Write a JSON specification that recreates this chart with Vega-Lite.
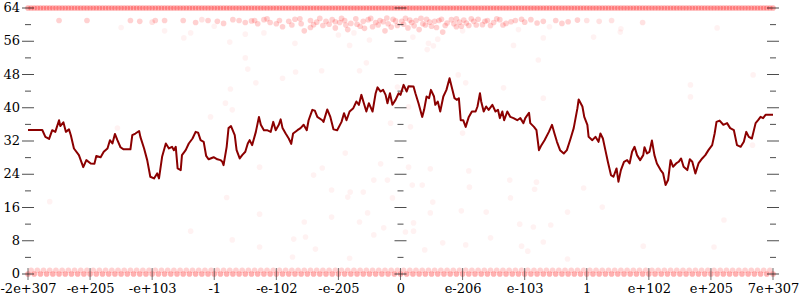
{
  "$schema": "https://vega.github.io/schema/vega-lite/v6.json",
  "width": 745,
  "height": 266,
  "autosize": {"type": "none"},
  "padding": {"left": 28, "top": 8, "right": 27, "bottom": 26},
  "background": "white",
  "config": {
    "view": {"stroke": null},
    "axis": {"labelFont": "DejaVu Serif", "labelFontSize": 13, "labelColor": "black", "grid": false, "ticks": false, "domain": false, "labelOverlap": false, "labelPadding": 8, "labelFlush": false, "labelBound": false},
    "axisY": {"disable": true}
  },
  "datasets": {
    "line": [
      {"x":-6.00,"y":34.65},{"x":-5.77,"y":34.65},{"x":-5.72,"y":33.0},{"x":-5.66,"y":32.5},{"x":-5.61,"y":34.6},{"x":-5.56,"y":34.2},{"x":-5.50,"y":37.0},{"x":-5.48,"y":35.6},{"x":-5.43,"y":36.5},{"x":-5.39,"y":34.2},{"x":-5.34,"y":34.8},{"x":-5.31,"y":33.4},{"x":-5.26,"y":30.2},{"x":-5.18,"y":28.6},{"x":-5.11,"y":25.7},{"x":-5.06,"y":27.4},{"x":-4.99,"y":26.6},{"x":-4.93,"y":26.5},{"x":-4.90,"y":28.4},{"x":-4.83,"y":28.1},{"x":-4.78,"y":29.4},{"x":-4.72,"y":30.2},{"x":-4.68,"y":32.2},{"x":-4.64,"y":31.4},{"x":-4.60,"y":33.7},{"x":-4.56,"y":32.2},{"x":-4.51,"y":30.5},{"x":-4.46,"y":30.0},{"x":-4.35,"y":30.0},{"x":-4.32,"y":33.4},{"x":-4.27,"y":33.8},{"x":-4.21,"y":34.4},{"x":-4.19,"y":33.0},{"x":-4.13,"y":30.2},{"x":-4.08,"y":27.4},{"x":-4.03,"y":23.4},{"x":-3.97,"y":23.0},{"x":-3.92,"y":24.2},{"x":-3.89,"y":23.0},{"x":-3.84,"y":28.2},{"x":-3.78,"y":31.4},{"x":-3.73,"y":30.2},{"x":-3.68,"y":30.6},{"x":-3.65,"y":29.8},{"x":-3.62,"y":30.6},{"x":-3.59,"y":25.4},{"x":-3.54,"y":25.0},{"x":-3.52,"y":28.6},{"x":-3.46,"y":29.8},{"x":-3.41,"y":31.4},{"x":-3.35,"y":32.6},{"x":-3.30,"y":34.2},{"x":-3.26,"y":34.0},{"x":-3.22,"y":32.2},{"x":-3.17,"y":31.8},{"x":-3.13,"y":28.4},{"x":-3.09,"y":27.6},{"x":-3.01,"y":28.1},{"x":-2.95,"y":27.6},{"x":-2.90,"y":27.4},{"x":-2.87,"y":27.0},{"x":-2.85,"y":26.2},{"x":-2.80,"y":30.6},{"x":-2.77,"y":35.1},{"x":-2.73,"y":35.6},{"x":-2.67,"y":33.4},{"x":-2.64,"y":29.8},{"x":-2.59,"y":27.8},{"x":-2.55,"y":28.6},{"x":-2.50,"y":29.4},{"x":-2.46,"y":31.4},{"x":-2.43,"y":32.2},{"x":-2.39,"y":31.0},{"x":-2.33,"y":34.2},{"x":-2.28,"y":37.8},{"x":-2.25,"y":35.9},{"x":-2.20,"y":34.6},{"x":-2.15,"y":34.6},{"x":-2.09,"y":34.2},{"x":-2.05,"y":36.6},{"x":-2.01,"y":34.6},{"x":-1.96,"y":35.9},{"x":-1.93,"y":37.2},{"x":-1.90,"y":35.1},{"x":-1.85,"y":33.8},{"x":-1.80,"y":32.6},{"x":-1.76,"y":31.3},{"x":-1.73,"y":33.8},{"x":-1.66,"y":34.6},{"x":-1.61,"y":35.1},{"x":-1.56,"y":35.9},{"x":-1.51,"y":34.6},{"x":-1.48,"y":37.0},{"x":-1.42,"y":39.5},{"x":-1.38,"y":39.3},{"x":-1.34,"y":37.8},{"x":-1.26,"y":37.0},{"x":-1.24,"y":36.6},{"x":-1.18,"y":39.6},{"x":-1.13,"y":37.8},{"x":-1.08,"y":34.8},{"x":-1.02,"y":34.6},{"x":-0.95,"y":36.6},{"x":-0.91,"y":38.7},{"x":-0.87,"y":37.0},{"x":-0.82,"y":39.1},{"x":-0.76,"y":39.9},{"x":-0.71,"y":41.5},{"x":-0.67,"y":40.7},{"x":-0.63,"y":43.1},{"x":-0.59,"y":41.1},{"x":-0.55,"y":39.1},{"x":-0.51,"y":41.1},{"x":-0.48,"y":40.1},{"x":-0.45,"y":39.1},{"x":-0.40,"y":43.5},{"x":-0.37,"y":44.9},{"x":-0.32,"y":43.9},{"x":-0.28,"y":44.3},{"x":-0.24,"y":43.1},{"x":-0.21,"y":41.1},{"x":-0.17,"y":43.5},{"x":-0.13,"y":40.7},{"x":-0.08,"y":41.9},{"x":-0.03,"y":43.5},{"x":0.00,"y":43.1},{"x":0.05,"y":45.5},{"x":0.10,"y":43.9},{"x":0.13,"y":45.2},{"x":0.21,"y":45.1},{"x":0.24,"y":43.5},{"x":0.29,"y":41.1},{"x":0.35,"y":37.8},{"x":0.38,"y":39.5},{"x":0.42,"y":42.7},{"x":0.46,"y":42.3},{"x":0.49,"y":44.3},{"x":0.54,"y":42.7},{"x":0.56,"y":40.7},{"x":0.60,"y":41.5},{"x":0.64,"y":39.1},{"x":0.69,"y":42.7},{"x":0.74,"y":44.3},{"x":0.79,"y":47.1},{"x":0.83,"y":44.7},{"x":0.87,"y":42.3},{"x":0.91,"y":41.9},{"x":0.94,"y":42.3},{"x":0.97,"y":37.0},{"x":1.01,"y":37.0},{"x":1.05,"y":35.4},{"x":1.10,"y":37.8},{"x":1.15,"y":39.1},{"x":1.21,"y":39.1},{"x":1.24,"y":40.3},{"x":1.28,"y":43.5},{"x":1.30,"y":41.5},{"x":1.34,"y":39.1},{"x":1.38,"y":40.3},{"x":1.42,"y":39.5},{"x":1.48,"y":40.7},{"x":1.53,"y":39.1},{"x":1.57,"y":39.5},{"x":1.60,"y":37.5},{"x":1.64,"y":39.1},{"x":1.67,"y":37.0},{"x":1.72,"y":39.1},{"x":1.77,"y":37.8},{"x":1.82,"y":37.5},{"x":1.88,"y":37.0},{"x":1.93,"y":37.5},{"x":1.98,"y":36.3},{"x":2.01,"y":37.5},{"x":2.07,"y":38.8},{"x":2.09,"y":36.3},{"x":2.15,"y":35.4},{"x":2.19,"y":34.6},{"x":2.23,"y":29.8},{"x":2.27,"y":31.0},{"x":2.32,"y":32.2},{"x":2.39,"y":34.2},{"x":2.44,"y":35.9},{"x":2.48,"y":33.8},{"x":2.52,"y":31.8},{"x":2.57,"y":29.8},{"x":2.63,"y":29.0},{"x":2.68,"y":29.8},{"x":2.74,"y":32.6},{"x":2.79,"y":35.1},{"x":2.85,"y":39.9},{"x":2.87,"y":42.0},{"x":2.93,"y":40.3},{"x":2.96,"y":37.8},{"x":3.01,"y":35.9},{"x":3.03,"y":33.0},{"x":3.09,"y":32.2},{"x":3.14,"y":33.0},{"x":3.19,"y":31.8},{"x":3.22,"y":33.8},{"x":3.26,"y":32.6},{"x":3.30,"y":29.8},{"x":3.34,"y":27.0},{"x":3.39,"y":23.8},{"x":3.43,"y":23.4},{"x":3.48,"y":25.4},{"x":3.51,"y":22.2},{"x":3.55,"y":25.0},{"x":3.60,"y":27.0},{"x":3.65,"y":27.4},{"x":3.69,"y":26.6},{"x":3.73,"y":29.4},{"x":3.77,"y":30.6},{"x":3.81,"y":28.6},{"x":3.86,"y":27.4},{"x":3.91,"y":28.6},{"x":3.93,"y":30.5},{"x":3.97,"y":29.0},{"x":4.01,"y":29.4},{"x":4.05,"y":32.1},{"x":4.09,"y":28.6},{"x":4.13,"y":26.6},{"x":4.19,"y":25.0},{"x":4.23,"y":24.2},{"x":4.27,"y":21.4},{"x":4.31,"y":22.6},{"x":4.35,"y":27.4},{"x":4.39,"y":25.8},{"x":4.44,"y":26.6},{"x":4.48,"y":27.0},{"x":4.52,"y":27.8},{"x":4.56,"y":25.8},{"x":4.62,"y":25.0},{"x":4.66,"y":27.6},{"x":4.70,"y":27.0},{"x":4.75,"y":24.2},{"x":4.80,"y":26.6},{"x":4.86,"y":27.8},{"x":4.91,"y":28.6},{"x":4.96,"y":29.8},{"x":5.02,"y":31.0},{"x":5.06,"y":33.8},{"x":5.09,"y":36.6},{"x":5.14,"y":36.9},{"x":5.20,"y":35.9},{"x":5.26,"y":36.3},{"x":5.31,"y":35.1},{"x":5.37,"y":34.6},{"x":5.42,"y":31.0},{"x":5.48,"y":30.6},{"x":5.53,"y":31.8},{"x":5.57,"y":34.2},{"x":5.61,"y":33.0},{"x":5.66,"y":32.6},{"x":5.72,"y":36.3},{"x":5.76,"y":37.0},{"x":5.80,"y":37.8},{"x":5.84,"y":37.5},{"x":5.88,"y":38.3},{"x":6.00,"y":38.3}
    ],
    "pts": [
      {"x":-6,"y":64,"n":5},{"x":-5.9,"y":64,"n":5},{"x":-5.8,"y":64,"n":5},{"x":-5.7,"y":64,"n":5},{"x":-5.6,"y":64,"n":5},{"x":-5.5,"y":64,"n":5},{"x":-5.4,"y":64,"n":5},{"x":-5.3,"y":64,"n":5},{"x":-5.2,"y":64,"n":5},{"x":-5.1,"y":64,"n":5},{"x":-5,"y":64,"n":5},{"x":-4.9,"y":64,"n":5},{"x":-4.8,"y":64,"n":5},{"x":-4.7,"y":64,"n":5},{"x":-4.6,"y":64,"n":5},{"x":-4.5,"y":64,"n":5},{"x":-4.4,"y":64,"n":5},{"x":-4.3,"y":64,"n":5},{"x":-4.2,"y":64,"n":5},{"x":-4.1,"y":64,"n":5},{"x":-4,"y":64,"n":5},{"x":-3.9,"y":64,"n":5},{"x":-3.8,"y":64,"n":5},{"x":-3.7,"y":64,"n":5},{"x":-3.6,"y":64,"n":5},{"x":-3.5,"y":64,"n":5},{"x":-3.4,"y":64,"n":5},{"x":-3.3,"y":64,"n":5},{"x":-3.2,"y":64,"n":5},{"x":-3.1,"y":64,"n":5},{"x":-3,"y":64,"n":5},{"x":-2.9,"y":64,"n":5},{"x":-2.8,"y":64,"n":5},{"x":-2.7,"y":64,"n":5},{"x":-2.6,"y":64,"n":5},{"x":-2.5,"y":64,"n":5},{"x":-2.4,"y":64,"n":5},{"x":-2.3,"y":64,"n":5},{"x":-2.2,"y":64,"n":5},{"x":-2.1,"y":64,"n":5},{"x":-2,"y":64,"n":5},{"x":-1.9,"y":64,"n":5},{"x":-1.8,"y":64,"n":5},{"x":-1.7,"y":64,"n":5},{"x":-1.6,"y":64,"n":5},{"x":-1.5,"y":64,"n":5},{"x":-1.4,"y":64,"n":5},{"x":-1.3,"y":64,"n":5},{"x":-1.2,"y":64,"n":5},{"x":-1.1,"y":64,"n":5},{"x":-1,"y":64,"n":5},{"x":-0.9,"y":64,"n":5},{"x":-0.8,"y":64,"n":5},{"x":-0.7,"y":64,"n":5},{"x":-0.6,"y":64,"n":5},{"x":-0.5,"y":64,"n":5},{"x":-0.4,"y":64,"n":5},{"x":-0.3,"y":64,"n":5},{"x":-0.2,"y":64,"n":5},{"x":-0.1,"y":64,"n":5},{"x":0,"y":64,"n":5},{"x":0.1,"y":64,"n":5},{"x":0.2,"y":64,"n":5},{"x":0.3,"y":64,"n":5},{"x":0.4,"y":64,"n":5},{"x":0.5,"y":64,"n":5},{"x":0.6,"y":64,"n":5},{"x":0.7,"y":64,"n":5},{"x":0.8,"y":64,"n":5},{"x":0.9,"y":64,"n":5},{"x":1,"y":64,"n":5},{"x":1.1,"y":64,"n":5},{"x":1.2,"y":64,"n":5},{"x":1.3,"y":64,"n":5},{"x":1.4,"y":64,"n":5},{"x":1.5,"y":64,"n":5},{"x":1.6,"y":64,"n":5},{"x":1.7,"y":64,"n":5},{"x":1.8,"y":64,"n":5},{"x":1.9,"y":64,"n":5},{"x":2,"y":64,"n":5},{"x":2.1,"y":64,"n":5},{"x":2.2,"y":64,"n":5},{"x":2.3,"y":64,"n":5},{"x":2.4,"y":64,"n":5},{"x":2.5,"y":64,"n":5},{"x":2.6,"y":64,"n":5},{"x":2.7,"y":64,"n":5},{"x":2.8,"y":64,"n":5},{"x":2.9,"y":64,"n":5},{"x":3,"y":64,"n":5},{"x":3.1,"y":64,"n":5},{"x":3.2,"y":64,"n":5},{"x":3.3,"y":64,"n":5},{"x":3.4,"y":64,"n":5},{"x":3.5,"y":64,"n":5},{"x":3.6,"y":64,"n":5},{"x":3.7,"y":64,"n":5},{"x":3.8,"y":64,"n":5},{"x":3.9,"y":64,"n":5},{"x":4,"y":64,"n":5},{"x":4.1,"y":64,"n":5},{"x":4.2,"y":64,"n":5},{"x":4.3,"y":64,"n":5},{"x":4.4,"y":64,"n":5},{"x":4.5,"y":64,"n":5},{"x":4.6,"y":64,"n":5},{"x":4.7,"y":64,"n":5},{"x":4.8,"y":64,"n":5},{"x":4.9,"y":64,"n":5},{"x":5,"y":64,"n":5},{"x":5.1,"y":64,"n":5},{"x":5.2,"y":64,"n":5},{"x":5.3,"y":64,"n":5},{"x":5.4,"y":64,"n":5},{"x":5.5,"y":64,"n":5},{"x":5.6,"y":64,"n":5},{"x":5.7,"y":64,"n":5},{"x":5.8,"y":64,"n":5},{"x":5.9,"y":64,"n":5},{"x":6,"y":64,"n":5},
      {"x":-5.95,"y":64,"n":5},{"x":-5.85,"y":64,"n":5},{"x":-5.75,"y":64,"n":5},{"x":-5.65,"y":64,"n":5},{"x":-5.55,"y":64,"n":5},{"x":-5.45,"y":64,"n":5},{"x":-5.35,"y":64,"n":5},{"x":-5.25,"y":64,"n":5},{"x":-5.15,"y":64,"n":5},{"x":-5.05,"y":64,"n":5},{"x":-4.95,"y":64,"n":5},{"x":-4.85,"y":64,"n":5},{"x":-4.75,"y":64,"n":5},{"x":-4.65,"y":64,"n":5},{"x":-4.55,"y":64,"n":5},{"x":-4.45,"y":64,"n":5},{"x":-4.35,"y":64,"n":5},{"x":-4.25,"y":64,"n":5},{"x":-4.15,"y":64,"n":5},{"x":-4.05,"y":64,"n":5},{"x":-3.95,"y":64,"n":5},{"x":-3.85,"y":64,"n":5},{"x":-3.75,"y":64,"n":5},{"x":-3.65,"y":64,"n":5},{"x":-3.55,"y":64,"n":5},{"x":-3.45,"y":64,"n":5},{"x":-3.35,"y":64,"n":5},{"x":-3.25,"y":64,"n":5},{"x":-3.15,"y":64,"n":5},{"x":-3.05,"y":64,"n":5},{"x":-2.95,"y":64,"n":5},{"x":-2.85,"y":64,"n":5},{"x":-2.75,"y":64,"n":5},{"x":-2.65,"y":64,"n":5},{"x":-2.55,"y":64,"n":5},{"x":-2.45,"y":64,"n":5},{"x":-2.35,"y":64,"n":5},{"x":-2.25,"y":64,"n":5},{"x":-2.15,"y":64,"n":5},{"x":-2.05,"y":64,"n":5},{"x":-1.95,"y":64,"n":5},{"x":-1.85,"y":64,"n":5},{"x":-1.75,"y":64,"n":5},{"x":-1.65,"y":64,"n":5},{"x":-1.55,"y":64,"n":5},{"x":-1.45,"y":64,"n":5},{"x":-1.35,"y":64,"n":5},{"x":-1.25,"y":64,"n":5},{"x":-1.15,"y":64,"n":5},{"x":-1.05,"y":64,"n":5},{"x":-0.95,"y":64,"n":5},{"x":-0.85,"y":64,"n":5},{"x":-0.75,"y":64,"n":5},{"x":-0.65,"y":64,"n":5},{"x":-0.55,"y":64,"n":5},{"x":-0.45,"y":64,"n":5},{"x":-0.35,"y":64,"n":5},{"x":-0.25,"y":64,"n":5},{"x":-0.15,"y":64,"n":5},{"x":-0.05,"y":64,"n":5},{"x":0.05,"y":64,"n":5},{"x":0.15,"y":64,"n":5},{"x":0.25,"y":64,"n":5},{"x":0.35,"y":64,"n":5},{"x":0.45,"y":64,"n":5},{"x":0.55,"y":64,"n":5},{"x":0.65,"y":64,"n":5},{"x":0.75,"y":64,"n":5},{"x":0.85,"y":64,"n":5},{"x":0.95,"y":64,"n":5},{"x":1.05,"y":64,"n":5},{"x":1.15,"y":64,"n":5},{"x":1.25,"y":64,"n":5},{"x":1.35,"y":64,"n":5},{"x":1.45,"y":64,"n":5},{"x":1.55,"y":64,"n":5},{"x":1.65,"y":64,"n":5},{"x":1.75,"y":64,"n":5},{"x":1.85,"y":64,"n":5},{"x":1.95,"y":64,"n":5},{"x":2.05,"y":64,"n":5},{"x":2.15,"y":64,"n":5},{"x":2.25,"y":64,"n":5},{"x":2.35,"y":64,"n":5},{"x":2.45,"y":64,"n":5},{"x":2.55,"y":64,"n":5},{"x":2.65,"y":64,"n":5},{"x":2.75,"y":64,"n":5},{"x":2.85,"y":64,"n":5},{"x":2.95,"y":64,"n":5},{"x":3.05,"y":64,"n":5},{"x":3.15,"y":64,"n":5},{"x":3.25,"y":64,"n":5},{"x":3.35,"y":64,"n":5},{"x":3.45,"y":64,"n":5},{"x":3.55,"y":64,"n":5},{"x":3.65,"y":64,"n":5},{"x":3.75,"y":64,"n":5},{"x":3.85,"y":64,"n":5},{"x":3.95,"y":64,"n":5},{"x":4.05,"y":64,"n":5},{"x":4.15,"y":64,"n":5},{"x":4.25,"y":64,"n":5},{"x":4.35,"y":64,"n":5},{"x":4.45,"y":64,"n":5},{"x":4.55,"y":64,"n":5},{"x":4.65,"y":64,"n":5},{"x":4.75,"y":64,"n":5},{"x":4.85,"y":64,"n":5},{"x":4.95,"y":64,"n":5},{"x":5.05,"y":64,"n":5},{"x":5.15,"y":64,"n":5},{"x":5.25,"y":64,"n":5},{"x":5.35,"y":64,"n":5},{"x":5.45,"y":64,"n":5},{"x":5.55,"y":64,"n":5},{"x":5.65,"y":64,"n":5},{"x":5.75,"y":64,"n":5},{"x":5.85,"y":64,"n":5},{"x":5.95,"y":64,"n":5},
      {"x":-6,"y":0,"n":5},{"x":-5.9,"y":0,"n":5},{"x":-5.8,"y":0,"n":5},{"x":-5.7,"y":0,"n":5},{"x":-5.6,"y":0,"n":5},{"x":-5.5,"y":0,"n":5},{"x":-5.4,"y":0,"n":5},{"x":-5.3,"y":0,"n":5},{"x":-5.2,"y":0,"n":5},{"x":-5.1,"y":0,"n":5},{"x":-5,"y":0,"n":5},{"x":-4.9,"y":0,"n":5},{"x":-4.8,"y":0,"n":5},{"x":-4.7,"y":0,"n":5},{"x":-4.6,"y":0,"n":5},{"x":-4.5,"y":0,"n":5},{"x":-4.4,"y":0,"n":5},{"x":-4.3,"y":0,"n":5},{"x":-4.2,"y":0,"n":5},{"x":-4.1,"y":0,"n":5},{"x":-4,"y":0,"n":5},{"x":-3.9,"y":0,"n":5},{"x":-3.8,"y":0,"n":5},{"x":-3.7,"y":0,"n":5},{"x":-3.6,"y":0,"n":5},{"x":-3.5,"y":0,"n":5},{"x":-3.4,"y":0,"n":5},{"x":-3.3,"y":0,"n":5},{"x":-3.2,"y":0,"n":5},{"x":-3.1,"y":0,"n":5},{"x":-3,"y":0,"n":5},{"x":-2.9,"y":0,"n":5},{"x":-2.8,"y":0,"n":5},{"x":-2.7,"y":0,"n":5},{"x":-2.6,"y":0,"n":5},{"x":-2.5,"y":0,"n":5},{"x":-2.4,"y":0,"n":5},{"x":-2.3,"y":0,"n":5},{"x":-2.2,"y":0,"n":5},{"x":-2.1,"y":0,"n":5},{"x":-2,"y":0,"n":5},{"x":-1.9,"y":0,"n":5},{"x":-1.8,"y":0,"n":5},{"x":-1.7,"y":0,"n":5},{"x":-1.6,"y":0,"n":5},{"x":-1.5,"y":0,"n":5},{"x":-1.4,"y":0,"n":5},{"x":-1.3,"y":0,"n":5},{"x":-1.2,"y":0,"n":5},{"x":-1.1,"y":0,"n":5},{"x":-1,"y":0,"n":5},{"x":-0.9,"y":0,"n":5},{"x":-0.8,"y":0,"n":5},{"x":-0.7,"y":0,"n":5},{"x":-0.6,"y":0,"n":5},{"x":-0.5,"y":0,"n":5},{"x":-0.4,"y":0,"n":5},{"x":-0.3,"y":0,"n":5},{"x":-0.2,"y":0,"n":5},{"x":-0.1,"y":0,"n":5},{"x":0,"y":0,"n":5},{"x":0.1,"y":0,"n":5},{"x":0.2,"y":0,"n":5},{"x":0.3,"y":0,"n":5},{"x":0.4,"y":0,"n":5},{"x":0.5,"y":0,"n":5},{"x":0.6,"y":0,"n":5},{"x":0.7,"y":0,"n":5},{"x":0.8,"y":0,"n":5},{"x":0.9,"y":0,"n":5},{"x":1,"y":0,"n":5},{"x":1.1,"y":0,"n":5},{"x":1.2,"y":0,"n":5},{"x":1.3,"y":0,"n":5},{"x":1.4,"y":0,"n":5},{"x":1.5,"y":0,"n":5},{"x":1.6,"y":0,"n":5},{"x":1.7,"y":0,"n":5},{"x":1.8,"y":0,"n":5},{"x":1.9,"y":0,"n":5},{"x":2,"y":0,"n":5},{"x":2.1,"y":0,"n":5},{"x":2.2,"y":0,"n":5},{"x":2.3,"y":0,"n":5},{"x":2.4,"y":0,"n":5},{"x":2.5,"y":0,"n":5},{"x":2.6,"y":0,"n":5},{"x":2.7,"y":0,"n":5},{"x":2.8,"y":0,"n":5},{"x":2.9,"y":0,"n":5},{"x":3,"y":0,"n":5},{"x":3.1,"y":0,"n":5},{"x":3.2,"y":0,"n":5},{"x":3.3,"y":0,"n":5},{"x":3.4,"y":0,"n":5},{"x":3.5,"y":0,"n":5},{"x":3.6,"y":0,"n":5},{"x":3.7,"y":0,"n":5},{"x":3.8,"y":0,"n":5},{"x":3.9,"y":0,"n":5},{"x":4,"y":0,"n":5},{"x":4.1,"y":0,"n":5},{"x":4.2,"y":0,"n":5},{"x":4.3,"y":0,"n":5},{"x":4.4,"y":0,"n":5},{"x":4.5,"y":0,"n":5},{"x":4.6,"y":0,"n":5},{"x":4.7,"y":0,"n":5},{"x":4.8,"y":0,"n":5},{"x":4.9,"y":0,"n":5},{"x":5,"y":0,"n":5},{"x":5.1,"y":0,"n":5},{"x":5.2,"y":0,"n":5},{"x":5.3,"y":0,"n":5},{"x":5.4,"y":0,"n":5},{"x":5.5,"y":0,"n":5},{"x":5.6,"y":0,"n":5},{"x":5.7,"y":0,"n":5},{"x":5.8,"y":0,"n":5},{"x":5.9,"y":0,"n":5},{"x":6,"y":0,"n":5},
      {"x":-5.95,"y":0.9,"n":3},{"x":-5.85,"y":0.9,"n":3},{"x":-5.75,"y":0.9,"n":3},{"x":-5.65,"y":0.9,"n":3},{"x":-5.55,"y":0.9,"n":3},{"x":-5.45,"y":0.9,"n":3},{"x":-5.35,"y":0.9,"n":3},{"x":-5.25,"y":0.9,"n":3},{"x":-5.15,"y":0.9,"n":3},{"x":-5.05,"y":0.9,"n":3},{"x":-4.95,"y":0.9,"n":3},{"x":-4.85,"y":0.9,"n":3},{"x":-4.75,"y":0.9,"n":3},{"x":-4.65,"y":0.9,"n":3},{"x":-4.55,"y":0.9,"n":3},{"x":-4.45,"y":0.9,"n":3},{"x":-4.35,"y":0.9,"n":3},{"x":-4.25,"y":0.9,"n":3},{"x":-4.15,"y":0.9,"n":3},{"x":-4.05,"y":0.9,"n":3},{"x":-3.95,"y":0.9,"n":3},{"x":-3.85,"y":0.9,"n":3},{"x":-3.75,"y":0.9,"n":3},{"x":-3.65,"y":0.9,"n":3},{"x":-3.55,"y":0.9,"n":3},{"x":-3.45,"y":0.9,"n":3},{"x":-3.35,"y":0.9,"n":3},{"x":-3.25,"y":0.9,"n":3},{"x":-3.15,"y":0.9,"n":3},{"x":-3.05,"y":0.9,"n":3},{"x":-2.95,"y":0.9,"n":3},{"x":-2.85,"y":0.9,"n":3},{"x":-2.75,"y":0.9,"n":3},{"x":-2.65,"y":0.9,"n":3},{"x":-2.55,"y":0.9,"n":3},{"x":-2.45,"y":0.9,"n":3},{"x":-2.35,"y":0.9,"n":3},{"x":-2.25,"y":0.9,"n":3},{"x":-2.15,"y":0.9,"n":3},{"x":-2.05,"y":0.9,"n":3},{"x":-1.95,"y":0.9,"n":3},{"x":-1.85,"y":0.9,"n":3},{"x":-1.75,"y":0.9,"n":3},{"x":-1.65,"y":0.9,"n":3},{"x":-1.55,"y":0.9,"n":3},{"x":-1.45,"y":0.9,"n":3},{"x":-1.35,"y":0.9,"n":3},{"x":-1.25,"y":0.9,"n":3},{"x":-1.15,"y":0.9,"n":3},{"x":-1.05,"y":0.9,"n":3},{"x":-0.95,"y":0.9,"n":3},{"x":-0.85,"y":0.9,"n":3},{"x":-0.75,"y":0.9,"n":3},{"x":-0.65,"y":0.9,"n":3},{"x":-0.55,"y":0.9,"n":3},{"x":-0.45,"y":0.9,"n":3},{"x":-0.35,"y":0.9,"n":3},{"x":-0.25,"y":0.9,"n":3},{"x":-0.15,"y":0.9,"n":3},{"x":-0.05,"y":0.9,"n":3},{"x":0.05,"y":0.9,"n":3},{"x":0.15,"y":0.9,"n":3},{"x":0.25,"y":0.9,"n":3},{"x":0.35,"y":0.9,"n":3},{"x":0.45,"y":0.9,"n":3},{"x":0.55,"y":0.9,"n":3},{"x":0.65,"y":0.9,"n":3},{"x":0.75,"y":0.9,"n":3},{"x":0.85,"y":0.9,"n":3},{"x":0.95,"y":0.9,"n":3},{"x":1.05,"y":0.9,"n":3},{"x":1.15,"y":0.9,"n":3},{"x":1.25,"y":0.9,"n":3},{"x":1.35,"y":0.9,"n":3},{"x":1.45,"y":0.9,"n":3},{"x":1.55,"y":0.9,"n":3},{"x":1.65,"y":0.9,"n":3},{"x":1.75,"y":0.9,"n":3},{"x":1.85,"y":0.9,"n":3},{"x":1.95,"y":0.9,"n":3},{"x":2.05,"y":0.9,"n":3},{"x":2.15,"y":0.9,"n":3},{"x":2.25,"y":0.9,"n":3},{"x":2.35,"y":0.9,"n":3},{"x":2.45,"y":0.9,"n":3},{"x":2.55,"y":0.9,"n":3},{"x":2.65,"y":0.9,"n":3},{"x":2.75,"y":0.9,"n":3},{"x":2.85,"y":0.9,"n":3},{"x":2.95,"y":0.9,"n":3},{"x":3.05,"y":0.9,"n":3},{"x":3.15,"y":0.9,"n":3},{"x":3.25,"y":0.9,"n":3},{"x":3.35,"y":0.9,"n":3},{"x":3.45,"y":0.9,"n":3},{"x":3.55,"y":0.9,"n":3},{"x":3.65,"y":0.9,"n":3},{"x":3.75,"y":0.9,"n":3},{"x":3.85,"y":0.9,"n":3},{"x":3.95,"y":0.9,"n":3},{"x":4.05,"y":0.9,"n":3},{"x":4.15,"y":0.9,"n":3},{"x":4.25,"y":0.9,"n":3},{"x":4.35,"y":0.9,"n":3},{"x":4.45,"y":0.9,"n":3},{"x":4.55,"y":0.9,"n":3},{"x":4.65,"y":0.9,"n":3},{"x":4.75,"y":0.9,"n":3},{"x":4.85,"y":0.9,"n":3},{"x":4.95,"y":0.9,"n":3},{"x":5.05,"y":0.9,"n":3},{"x":5.15,"y":0.9,"n":3},{"x":5.25,"y":0.9,"n":3},{"x":5.35,"y":0.9,"n":3},{"x":5.45,"y":0.9,"n":3},{"x":5.55,"y":0.9,"n":3},{"x":5.65,"y":0.9,"n":3},{"x":5.75,"y":0.9,"n":3},{"x":5.85,"y":0.9,"n":3},{"x":5.95,"y":0.9,"n":3},
      {"x":-5.5,"y":61,"n":3},{"x":-5.05,"y":61,"n":3},{"x":-4.35,"y":61,"n":3},{"x":-4.2,"y":60.8,"n":3},{"x":-3.95,"y":61,"n":3},{"x":-3.8,"y":61,"n":3},{"x":-3.5,"y":61,"n":3},{"x":-3.3,"y":60.5,"n":3},{"x":-3.1,"y":61,"n":3},{"x":-2.95,"y":60.8,"n":3},{"x":-2.85,"y":60.3,"n":3},{"x":-2.6,"y":61,"n":3},{"x":-2.5,"y":60.5,"n":3},{"x":-2.35,"y":61,"n":3},{"x":-2.3,"y":60.2,"n":3},{"x":-2.2,"y":61.2,"n":3},{"x":-2.1,"y":60.5,"n":3},{"x":-1.95,"y":61,"n":3},{"x":-1.9,"y":59.5,"n":3},{"x":-1.8,"y":60.8,"n":3},{"x":-1.7,"y":61.3,"n":3},{"x":-1.6,"y":60.2,"n":3},{"x":-1.55,"y":58.5,"n":3},{"x":-1.45,"y":61,"n":3},{"x":-1.4,"y":60,"n":3},{"x":-1.3,"y":61.5,"n":3},{"x":-1.25,"y":59.8,"n":3},{"x":-1.2,"y":60.8,"n":3},{"x":-1.1,"y":61.2,"n":3},{"x":-1.05,"y":59.2,"n":3},{"x":-0.98,"y":60.5,"n":3},{"x":-0.9,"y":61,"n":3},{"x":-0.85,"y":58.8,"n":3},{"x":-0.8,"y":60.3,"n":3},{"x":-0.72,"y":61.4,"n":3},{"x":-0.65,"y":59.6,"n":3},{"x":-0.6,"y":60.8,"n":3},{"x":-0.52,"y":61.2,"n":3},{"x":-0.45,"y":59.5,"n":3},{"x":-0.4,"y":60.5,"n":3},{"x":-0.33,"y":61,"n":3},{"x":-0.25,"y":58.5,"n":3},{"x":-0.2,"y":60.2,"n":3},{"x":-0.12,"y":61.3,"n":3},{"x":-0.05,"y":59.8,"n":3},{"x":0.02,"y":60.8,"n":3},{"x":0.08,"y":61.5,"n":3},{"x":0.12,"y":59.2,"n":3},{"x":0.18,"y":60.5,"n":3},{"x":0.25,"y":61,"n":3},{"x":0.3,"y":58.8,"n":3},{"x":0.36,"y":60.2,"n":3},{"x":0.42,"y":61.3,"n":3},{"x":0.5,"y":59.6,"n":3},{"x":0.55,"y":60.8,"n":3},{"x":0.62,"y":61,"n":3},{"x":0.68,"y":58.2,"n":3},{"x":0.75,"y":60.4,"n":3},{"x":0.82,"y":61.2,"n":3},{"x":0.9,"y":59.5,"n":3},{"x":0.95,"y":60.6,"n":3},{"x":1.02,"y":61.1,"n":3},{"x":1.1,"y":59.8,"n":3},{"x":1.18,"y":60.8,"n":3},{"x":1.25,"y":61.3,"n":3},{"x":1.32,"y":60,"n":3},{"x":1.4,"y":61,"n":3},{"x":1.5,"y":60.5,"n":3},{"x":1.6,"y":61.2,"n":3},{"x":1.7,"y":60.3,"n":3},{"x":1.85,"y":61,"n":3},{"x":2.0,"y":60.6,"n":3},{"x":2.1,"y":61.2,"n":3},{"x":2.3,"y":60.8,"n":3},{"x":2.5,"y":61,"n":3},{"x":2.7,"y":60.7,"n":3},{"x":3.0,"y":61,"n":2},{"x":3.2,"y":60.8,"n":2},{"x":3.4,"y":61,"n":2},{"x":3.9,"y":60.5,"n":2},
      {"x":-1.45,"y":59.3,"n":3},{"x":-1.35,"y":60.6,"n":3},{"x":-1.15,"y":60.1,"n":3},{"x":-0.95,"y":61.5,"n":3},{"x":-0.88,"y":59.9,"n":3},{"x":-0.7,"y":60.1,"n":3},{"x":-0.58,"y":59.1,"n":3},{"x":-0.48,"y":61.5,"n":3},{"x":-0.36,"y":59.9,"n":3},{"x":-0.28,"y":60.7,"n":3},{"x":-0.15,"y":59.4,"n":3},{"x":-0.08,"y":60.9,"n":3},{"x":0.05,"y":60.1,"n":3},{"x":0.15,"y":61.1,"n":3},{"x":0.22,"y":59.7,"n":3},{"x":0.33,"y":61.5,"n":3},{"x":0.4,"y":59.9,"n":3},{"x":0.47,"y":60.6,"n":3},{"x":0.58,"y":59.3,"n":3},{"x":0.66,"y":61.3,"n":3},{"x":0.72,"y":59.8,"n":3},{"x":0.86,"y":60.2,"n":3},{"x":0.98,"y":59.6,"n":3},{"x":1.06,"y":60.4,"n":3},{"x":1.14,"y":61.4,"n":3},{"x":1.22,"y":59.9,"n":3},{"x":1.36,"y":60.8,"n":3},{"x":1.45,"y":59.8,"n":3},{"x":1.55,"y":61.4,"n":3},{"x":1.65,"y":59.9,"n":3},{"x":1.78,"y":60.7,"n":3},{"x":1.95,"y":61.3,"n":3},{"x":2.2,"y":60.4,"n":3},{"x":-1.75,"y":59.9,"n":3},{"x":-2.0,"y":60.2,"n":3},{"x":-2.15,"y":61.4,"n":3},{"x":-2.4,"y":60.9,"n":3},{"x":-2.7,"y":61.2,"n":3},{"x":-1.62,"y":61.4,"n":3},{"x":-1.05,"y":60.7,"n":3},{"x":-0.22,"y":61.6,"n":3},{"x":0.9,"y":61.4,"n":3},{"x":2.6,"y":60.3,"n":3},{"x":2.85,"y":61.1,"n":3},{"x":-3.2,"y":61.2,"n":2},{"x":-4.0,"y":60.6,"n":2},
      {"x":-3.0,"y":59.6,"n":1},{"x":-2.2,"y":58,"n":1},{"x":-1.7,"y":55.5,"n":1},{"x":-1.0,"y":57.5,"n":1},{"x":-0.5,"y":56.3,"n":1},{"x":0.2,"y":57,"n":1},{"x":0.6,"y":56.5,"n":1},{"x":1.0,"y":58.5,"n":1},{"x":1.9,"y":58.8,"n":1},{"x":2.4,"y":59.5,"n":1},{"x":-4.5,"y":59.3,"n":1},{"x":-2.5,"y":57.7,"n":1},{"x":0.45,"y":55.5,"n":1},{"x":-0.75,"y":58,"n":1},{"x":3.55,"y":59,"n":1},{"x":-3.8,"y":58.5,"n":1},
      {"x":-5.65,"y":17.4,"n":1},{"x":-3.38,"y":10.3,"n":1},{"x":-2.80,"y":18.4,"n":1},{"x":-2.71,"y":8.2,"n":1},{"x":-2.27,"y":25.7,"n":1},{"x":-2.27,"y":14.4,"n":1},{"x":-2.27,"y":6.5,"n":1},{"x":-1.74,"y":4.1,"n":1},{"x":-1.72,"y":8.4,"n":1},{"x":-1.55,"y":12.5,"n":1},{"x":-1.53,"y":8.9,"n":1},{"x":-1.40,"y":23.8,"n":1},{"x":-1.37,"y":6.0,"n":1},{"x":-1.26,"y":25.5,"n":1},{"x":-1.11,"y":20.2,"n":1},{"x":-1.11,"y":13.7,"n":1},{"x":-0.89,"y":29.1,"n":1},{"x":-0.85,"y":18.5,"n":1},{"x":-0.82,"y":3.8,"n":1},{"x":-0.81,"y":19.7,"n":1},{"x":-0.66,"y":12.5,"n":1},{"x":-0.60,"y":19.7,"n":1},{"x":-0.53,"y":14.7,"n":1},{"x":-0.43,"y":22.6,"n":1},{"x":-0.43,"y":9.4,"n":1},{"x":-0.32,"y":26.5,"n":1},{"x":-0.27,"y":11.1,"n":1},{"x":-0.21,"y":22.6,"n":1},{"x":-0.13,"y":18.3,"n":1},{"x":0.13,"y":25.7,"n":1},{"x":0.19,"y":21.4,"n":1},{"x":0.21,"y":12.3,"n":1},{"x":0.21,"y":10.3,"n":1},{"x":0.08,"y":10.1,"n":1},{"x":0.35,"y":21.4,"n":1},{"x":0.48,"y":25.3,"n":1},{"x":0.48,"y":14.7,"n":1},{"x":0.52,"y":17.3,"n":1},{"x":0.39,"y":5.8,"n":1},{"x":0.68,"y":7.5,"n":1},{"x":0.98,"y":15.2,"n":1},{"x":1.05,"y":7.0,"n":1},{"x":1.10,"y":24.8,"n":1},{"x":1.11,"y":20.9,"n":1},{"x":1.38,"y":14.9,"n":1},{"x":1.45,"y":8.7,"n":1},{"x":1.77,"y":18.3,"n":1},{"x":1.76,"y":22.6,"n":1},{"x":1.92,"y":12.0,"n":1},{"x":1.95,"y":6.7,"n":1},{"x":2.05,"y":5.5,"n":1},{"x":2.14,"y":11.3,"n":1},{"x":2.19,"y":22.1,"n":1},{"x":2.16,"y":20.4,"n":1},{"x":2.30,"y":7.7,"n":1},{"x":2.42,"y":11.8,"n":1},{"x":2.69,"y":14.9,"n":1},{"x":2.69,"y":3.6,"n":1},{"x":2.95,"y":20.7,"n":1},{"x":3.25,"y":16.1,"n":1},{"x":3.91,"y":6.7,"n":1},{"x":5.05,"y":6.5,"n":1},{"x":5.21,"y":13.0,"n":1},
      {"x":-3.49,"y":56.8,"n":1},{"x":-3.38,"y":58.0,"n":1},{"x":-2.75,"y":55.8,"n":1},{"x":-2.50,"y":52,"n":1},{"x":-2.46,"y":49.3,"n":1},{"x":-2.74,"y":44.5,"n":1},{"x":-2.82,"y":41.1,"n":1},{"x":-2.71,"y":39.5,"n":1},{"x":-3.06,"y":37.8,"n":1},{"x":-4.56,"y":35.1,"n":1},{"x":-2.33,"y":46,"n":1},{"x":-1.90,"y":47.1,"n":1},{"x":-1.69,"y":48.6,"n":1},{"x":-1.27,"y":48.9,"n":1},{"x":-0.82,"y":55,"n":1},{"x":-0.55,"y":50.8,"n":1},{"x":-0.66,"y":48.9,"n":1},{"x":-0.16,"y":36.3,"n":1},{"x":-0.05,"y":45,"n":1},{"x":0.93,"y":47.9,"n":1},{"x":1.05,"y":46,"n":1},{"x":1.66,"y":44.8,"n":1},{"x":2.30,"y":42.3,"n":1},{"x":2.22,"y":51.5,"n":1},{"x":1.82,"y":55,"n":1},{"x":0.43,"y":54,"n":1},{"x":0.53,"y":54.9,"n":1},{"x":2.30,"y":56.8,"n":1},{"x":3.11,"y":57,"n":1},{"x":3.54,"y":58.2,"n":1},{"x":4.67,"y":45.5,"n":1},{"x":4.67,"y":42.6,"n":1},{"x":5.10,"y":59.2,"n":1},{"x":5.68,"y":47.9,"n":1},{"x":5.67,"y":31,"n":1},{"x":0.13,"y":40.2,"n":1},{"x":0.16,"y":35.4,"n":1},{"x":1.00,"y":33.9,"n":1}
    ],
    "yticks": [
      {"v":0,"k":"major"},{"v":4,"k":"minor"},{"v":8,"k":"major"},{"v":12,"k":"minor"},{"v":16,"k":"major"},{"v":20,"k":"minor"},{"v":24,"k":"major"},{"v":28,"k":"minor"},{"v":32,"k":"major"},{"v":36,"k":"minor"},{"v":40,"k":"major"},{"v":44,"k":"minor"},{"v":48,"k":"major"},{"v":52,"k":"minor"},{"v":56,"k":"major"},{"v":60,"k":"minor"},{"v":64,"k":"major"}
    ],
    "xticks": [
      {"v":-6},{"v":-5},{"v":-4},{"v":-3},{"v":-2},{"v":-1},{"v":0},{"v":1},{"v":2},{"v":3},{"v":4},{"v":5},{"v":6}
    ]
  },
  "layer": [
    {
      "data": {"name": "pts"},
      "mark": {"type": "circle", "color": "#ff0000", "size": 32, "strokeWidth": 0},
      "encoding": {
        "x": {"field": "x", "type": "quantitative", "title": null,
              "scale": {"domain": [-6, 6], "nice": false, "zero": false},
              "axis": {"orient": "bottom", "values": [-6,-5,-4,-3,-2,-1,0,1,2,3,4,5,6], "labelPadding": 8, "labelFlush": false, "labelOverlap": false, "labelBound": false,
                       "labelExpr": "['-2e+307','-e+205','-e+103','-1','-e-102','-e-205','0','e-206','e-103','1','e+102','e+205','7e+307'][datum.value + 6]"}},
        "y": {"field": "y", "type": "quantitative", "title": null,
              "scale": {"domain": [0, 64], "nice": false, "zero": false}},
        "opacity": {"field": "n", "type": "quantitative", "scale": {"domain": [1, 8], "range": [0.05, 0.5]}, "legend": null}
      }
    },
    {
      "mark": {"type": "rule", "color": "#bdbdbd", "strokeWidth": 2},
      "encoding": {"x": {"datum": -6, "type": "quantitative", "scale": {"domain": [-6, 6], "nice": false, "zero": false}, "title": null}}
    },
    {
      "mark": {"type": "rule", "color": "#bdbdbd", "strokeWidth": 2},
      "encoding": {"x": {"datum": 6, "type": "quantitative", "scale": {"domain": [-6, 6], "nice": false, "zero": false}, "title": null}}
    },
    {
      "mark": {"type": "rule", "color": "#808080", "strokeWidth": 1},
      "encoding": {"x": {"datum": 0, "type": "quantitative", "scale": {"domain": [-6, 6], "nice": false, "zero": false}, "title": null}}
    },
    {
      "data": {"name": "yticks"},
      "transform": [{"filter": "datum.k == 'major'"}],
      "mark": {"type": "text", "align": "right", "baseline": "middle", "dx": -8, "font": "DejaVu Serif", "fontSize": 13, "color": "black"},
      "encoding": {
        "x": {"datum": -6, "type": "quantitative", "scale": {"domain": [-6, 6], "nice": false, "zero": false}, "title": null},
        "y": {"field": "v", "type": "quantitative", "scale": {"domain": [0, 64], "nice": false, "zero": false}, "title": null},
        "text": {"field": "v", "type": "quantitative"}
      }
    },
    {
      "data": {"name": "yticks"},
      "mark": {"type": "tick", "orient": "horizontal", "color": "black", "thickness": 1},
      "encoding": {
        "x": {"datum": -6, "type": "quantitative", "scale": {"domain": [-6, 6], "nice": false, "zero": false}, "title": null},
        "y": {"field": "v", "type": "quantitative", "scale": {"domain": [0, 64], "nice": false, "zero": false}, "title": null},
        "size": {"field": "k", "type": "ordinal", "scale": {"domain": ["major", "minor"], "range": [12, 6]}, "legend": null}
      }
    },
    {
      "data": {"name": "yticks"},
      "mark": {"type": "tick", "orient": "horizontal", "color": "black", "thickness": 1},
      "encoding": {
        "x": {"datum": 0, "type": "quantitative", "scale": {"domain": [-6, 6], "nice": false, "zero": false}, "title": null},
        "y": {"field": "v", "type": "quantitative", "scale": {"domain": [0, 64], "nice": false, "zero": false}, "title": null},
        "size": {"field": "k", "type": "ordinal", "scale": {"domain": ["major", "minor"], "range": [12, 6]}, "legend": null}
      }
    },
    {
      "data": {"name": "yticks"},
      "mark": {"type": "tick", "orient": "horizontal", "color": "black", "thickness": 1},
      "encoding": {
        "x": {"datum": 6, "type": "quantitative", "scale": {"domain": [-6, 6], "nice": false, "zero": false}, "title": null},
        "y": {"field": "v", "type": "quantitative", "scale": {"domain": [0, 64], "nice": false, "zero": false}, "title": null},
        "size": {"field": "k", "type": "ordinal", "scale": {"domain": ["major", "minor"], "range": [12, 6]}, "legend": null}
      }
    },
    {
      "data": {"name": "xticks"},
      "mark": {"type": "tick", "orient": "vertical", "color": "#333333", "thickness": 1, "size": 12},
      "encoding": {
        "x": {"field": "v", "type": "quantitative", "scale": {"domain": [-6, 6], "nice": false, "zero": false}, "title": null},
        "y": {"datum": 0, "type": "quantitative", "scale": {"domain": [0, 64], "nice": false, "zero": false}, "title": null}
      }
    },
    {
      "data": {"name": "line"},
      "mark": {"type": "line", "color": "#8b0000", "strokeWidth": 2, "strokeJoin": "round"},
      "encoding": {
        "x": {"field": "x", "type": "quantitative", "scale": {"domain": [-6, 6], "nice": false, "zero": false}, "title": null},
        "y": {"field": "y", "type": "quantitative", "scale": {"domain": [0, 64], "nice": false, "zero": false}, "title": null}
      }
    }
  ]
}
